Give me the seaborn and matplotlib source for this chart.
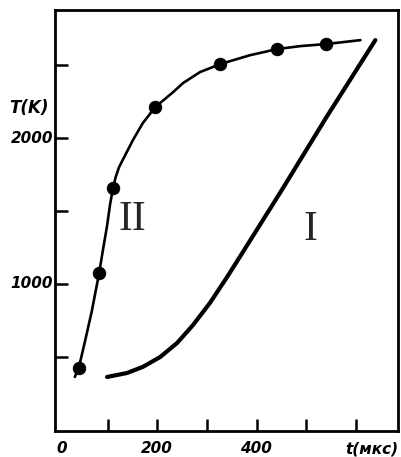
import matplotlib
matplotlib.use("Agg")
import matplotlib.pyplot as plt
import matplotlib.transforms as mtransforms
import seaborn as sns

# curve II: measured points (markers)
t_pts = [42, 83, 111, 196, 327, 442, 540]
T_pts = [425, 1075, 1658, 2212, 2507, 2610, 2644]

# curve II: the drawn line through the points
t_II = [34, 42, 54, 68, 83, 91, 99, 105, 111, 116, 123, 135, 151, 171, 196, 232, 252, 286, 327, 387, 442, 488, 540, 609]
T_II = [363, 425, 600, 810, 1075, 1240, 1400, 1545, 1658, 1730, 1800, 1880, 1986, 2103, 2212, 2315, 2377, 2452, 2507, 2568, 2610, 2630, 2644, 2671]

# curve I
t_I = [99, 139, 171, 206, 240, 272, 306, 341, 367, 450, 540, 639]
T_I = [363, 390, 432, 500, 596, 719, 870, 1050, 1190, 1640, 2140, 2671]

sns.set_style("white")

fig = plt.figure(figsize=(4.01, 4.57), dpi=100)
ax = fig.add_axes([0.137, 0.057, 0.856, 0.921])

sns.lineplot(x=t_II, y=T_II, ax=ax, color="black", lw=1.9, sort=False)
sns.lineplot(x=t_I, y=T_I, ax=ax, color="black", lw=3.0, sort=False)
sns.scatterplot(x=t_pts, y=T_pts, ax=ax, color="black", s=80, edgecolor="black", zorder=5)

ax.set_xlim(-6, 685)
ax.set_ylim(-7, 2877)

for sp in ax.spines.values():
    sp.set_linewidth(2.0)
    sp.set_color("black")

ax.set_xticks([100, 200, 300, 400, 500, 600])
ax.set_yticks([500, 1000, 1500, 2000, 2500])
ax.set_xticklabels([])
ax.set_yticklabels([])
ax.tick_params(direction="in", length=9, width=1.8, colors="black", bottom=True, left=True)

lab = dict(fontsize=11, fontweight="bold", fontstyle="italic", color="black")
xt = mtransforms.blended_transform_factory(ax.transData, ax.transAxes)
for xv, s in [(8, "0"), (200, "200"), (398, "400"), (633, "t(мкс)")]:
    ax.text(xv, -0.025, s, transform=xt, ha="center", va="top", **lab)

yt = mtransforms.blended_transform_factory(ax.transAxes, ax.transData)
for yv, s in [(1000, "1000"), (2000, "2000")]:
    ax.text(-0.005, yv, s, transform=yt, ha="right", va="center", **lab)
ax.text(-0.075, 2205, "T(K)", transform=yt, ha="center", va="center",
        fontsize=12, fontweight="bold", fontstyle="italic", color="black")

ax.text(149, 1438, "II", fontsize=30, family="Liberation Serif", ha="center", va="center")
ax.text(508, 1370, "I", fontsize=30, family="Liberation Serif", ha="center", va="center")

ax.set_xlabel("")
ax.set_ylabel("")

fig.savefig("out.png", dpi=100)
